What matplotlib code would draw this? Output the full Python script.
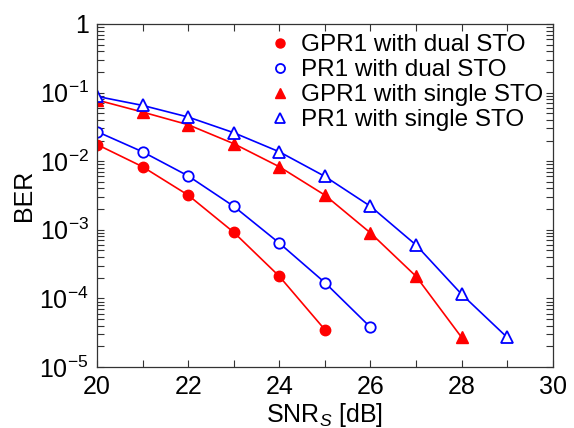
import matplotlib
matplotlib.use('Agg')
import matplotlib.pyplot as plt
from matplotlib.lines import Line2D
from matplotlib.ticker import FixedLocator, LogLocator, NullFormatter

plt.rcParams['font.family'] = ['Liberation Sans', 'DejaVu Sans']
plt.rcParams['mathtext.fontset'] = 'custom'
plt.rcParams['mathtext.rm'] = 'Liberation Sans'
plt.rcParams['mathtext.it'] = 'Liberation Sans:italic'
plt.rcParams['mathtext.default'] = 'regular'

# data
snr_gpr_dual = [20, 21, 22, 23, 24, 25]
ber_gpr_dual = [0.0175, 0.0083, 0.0032, 9.2e-4, 2.1e-4, 3.5e-5]

snr_pr_dual = [20, 21, 22, 23, 24, 25, 26]
ber_pr_dual = [0.027, 0.0137, 0.0061, 0.0022, 6.4e-4, 1.7e-4, 3.8e-5]

snr_gpr_single = [20, 21, 22, 23, 24, 25, 26, 27, 28]
ber_gpr_single = [0.078, 0.052, 0.034, 0.018, 0.0083, 0.0032, 9.0e-4, 2.1e-4, 2.7e-5]

snr_pr_single = [20, 21, 22, 23, 24, 25, 26, 27, 28, 29]
ber_pr_single = [0.088, 0.065, 0.044, 0.026, 0.0137, 0.006, 0.0022, 6.0e-4, 1.15e-4, 2.7e-5]

labels = ['GPR1 with dual STO', 'PR1 with dual STO',
          'GPR1 with single STO', 'PR1 with single STO']

x_ticks = [20, 22, 24, 26, 28, 30]
y_ticks = [1e-5, 1e-4, 1e-3, 1e-2, 1e-1, 1]
y_ticklabels = ['10$^{-5}$', '10$^{-4}$', '10$^{-3}$', '10$^{-2}$', '10$^{-1}$', '1']

red = '#ff0000'
blue = '#0000ff'
fs = 18

fig = plt.figure(figsize=(5.74, 4.28), dpi=100)
ax = fig.add_axes([0.169, 0.1425, 0.794, 0.8015])

lw = 1.2
ax.plot(snr_gpr_dual, ber_gpr_dual, color=red, lw=lw, marker='o', ms=7.5,
        mfc=red, mec=red)
ax.plot(snr_pr_dual, ber_pr_dual, color=blue, lw=lw, marker='o', ms=7.5,
        mfc='white', mec=blue, mew=1.3)
ax.plot(snr_gpr_single, ber_gpr_single, color=red, lw=lw, marker='^', ms=8,
        mfc=red, mec=red)
ax.plot(snr_pr_single, ber_pr_single, color=blue, lw=lw, marker='^', ms=8,
        mfc='white', mec=blue, mew=1.3)

ax.set_yscale('log')
ax.set_xlim(20, 30)
ax.set_ylim(1e-5, 1)
ax.set_xticks(x_ticks)
ax.set_xticklabels([str(t) for t in x_ticks])
ax.xaxis.set_minor_locator(FixedLocator(range(20, 31)))
ax.set_yticks(y_ticks)
ax.set_yticklabels(y_ticklabels)
ax.yaxis.set_minor_locator(LogLocator(base=10, subs=range(2, 10), numticks=20))
ax.yaxis.set_minor_formatter(NullFormatter())

ax.tick_params(which='both', direction='in', top=True, right=True,
               color='#333333', labelsize=fs, width=0.8)
ax.tick_params(which='major', length=5, pad=6)
ax.tick_params(which='minor', length=5)
for s in ax.spines.values():
    s.set_color('#333333')
    s.set_linewidth(0.9)

ax.set_ylabel('BER', fontsize=fs, labelpad=2)
ax.set_xlabel(r'SNR$_{\mathit{S}}$ [dB]', fontsize=fs, labelpad=1)

handles = [
    Line2D([], [], ls='none', marker='o', ms=6.5, mfc=red, mec=red),
    Line2D([], [], ls='none', marker='o', ms=6.5, mfc='white', mec=blue, mew=1.3),
    Line2D([], [], ls='none', marker='^', ms=6.5, mfc=red, mec=red),
    Line2D([], [], ls='none', marker='^', ms=6.5, mfc='white', mec=blue, mew=1.3),
]
ax.legend(handles, labels, loc='upper left', bbox_to_anchor=(0.386, 0.97),
          frameon=False, fontsize=17.5, handlelength=0.6, handletextpad=0.55,
          labelspacing=0.12, borderpad=0, borderaxespad=0)

fig.savefig('out.png', dpi=100)
